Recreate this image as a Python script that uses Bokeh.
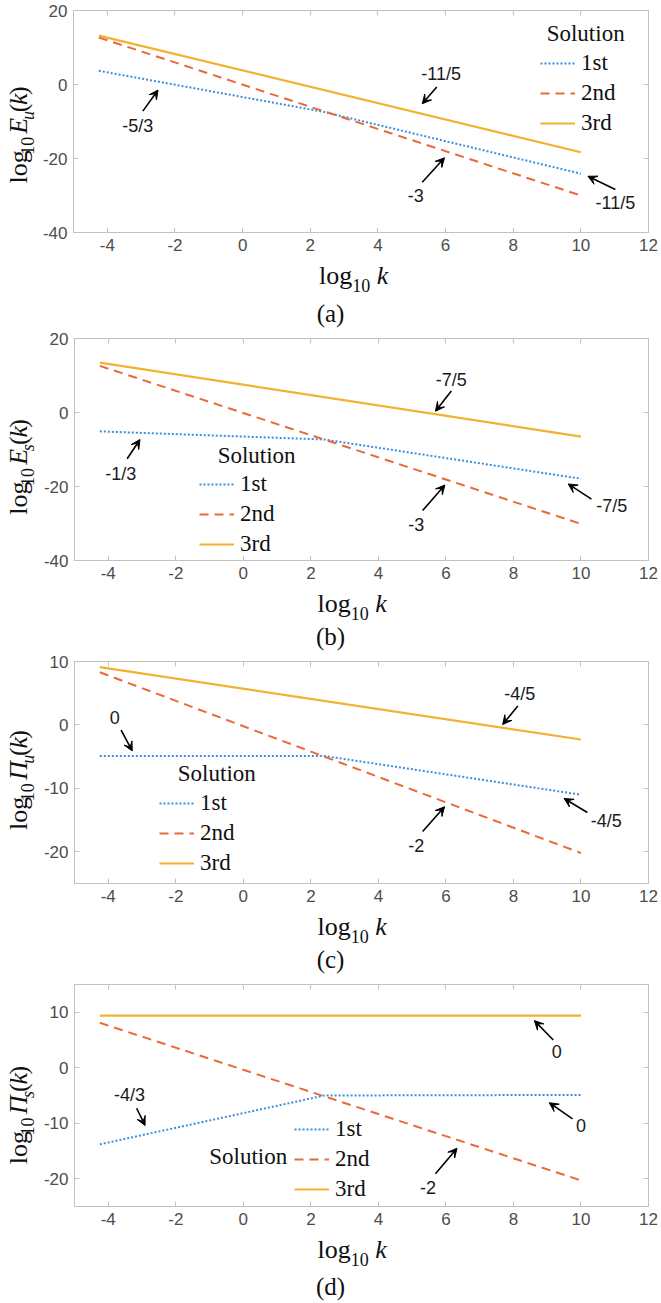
import math
from bokeh.plotting import figure
from bokeh.models import (Range1d, LinearAxis, FixedTicker, Label, Arrow, VeeHead,
                          CustomJSTickFormatter)
from bokeh.layouts import column, row
from bokeh.embed import file_html
from bokeh.resources import INLINE

# ---------------- data ----------------
x_ticks = [-4, -2, 0, 2, 4, 6, 8, 10, 12]
series_names = ["1st", "2nd", "3rd"]

# (a) log10 E_u(k)
a_k1 = [-4.25, 2.4, 10.0]
a_v1 = [3.7, -7.4, -24.1]
a_k2 = [-4.25, 10.0]
a_v2 = [12.7, -30.0]
a_k3 = [-4.25, 10.0]
a_v3 = [13.2, -18.3]
a_y_ticks = [-40, -20, 0, 20]

# (b) log10 E_s(k)
b_k1 = [-4.25, 2.4, 10.0]
b_v1 = [-5.1, -7.3, -17.9]
b_k2 = [-4.25, 10.0]
b_v2 = [12.6, -30.1]
b_k3 = [-4.25, 10.0]
b_v3 = [13.5, -6.5]
b_y_ticks = [-40, -20, 0, 20]

# (c) log10 Pi_u(k)
c_k1 = [-4.25, 2.4, 10.0]
c_v1 = [-4.9, -4.9, -11.0]
c_k2 = [-4.25, 10.0]
c_v2 = [8.3, -20.2]
c_k3 = [-4.25, 10.0]
c_v3 = [9.1, -2.3]
c_y_ticks = [-20, -10, 0, 10]

# (d) log10 Pi_s(k)
d_k1 = [-4.25, 2.4, 10.0]
d_v1 = [-13.8, -5.0, -4.9]
d_k2 = [-4.25, 10.0]
d_v2 = [8.1, -20.3]
d_k3 = [-4.25, 10.0]
d_v3 = [9.4, 9.4]
d_y_ticks = [-20, -10, 0, 10]

# slope annotations: text, text (x, y), arrow tail (x, y), arrow head (x, y)
a_notes = [("-5/3", -3.1, -11.2, -2.95, -7.2, -2.5, -1.5),
           ("-11/5", 5.87, 2.9, 5.74, -0.7, 5.31, -5.2),
           ("-3", 5.12, -30.0, 5.31, -26.4, 5.97, -19.8),
           ("-11/5", 11.02, -32.1, 11.02, -28.4, 10.21, -24.8)]
b_notes = [("-1/3", -3.63, -16.6, -3.44, -12.5, -3.06, -7.3),
           ("-7/5", 6.16, 8.8, 6.16, 5.8, 5.69, 0.35),
           ("-3", 5.12, -30.2, 5.31, -26.5, 5.97, -19.6),
           ("-7/5", 10.91, -25.4, 10.31, -23.4, 9.62, -19.3)]
c_notes = [("0", -3.81, 1.1, -3.62, -0.8, -3.29, -4.1),
           ("-4/5", 8.19, 4.9, 8.13, 3.0, 7.68, 0.06),
           ("-2", 5.12, -19.0, 5.31, -16.8, 5.96, -12.9),
           ("-4/5", 10.75, -15.1, 10.19, -13.8, 9.5, -11.6)]
d_notes = [("-4/3", -3.37, -4.9, -3.16, -7.3, -2.91, -10.4),
           ("0", 9.28, 2.9, 9.18, 5.0, 8.62, 8.5),
           ("0", 10.0, -10.4, 9.75, -9.2, 9.06, -6.3),
           ("-2", 5.47, -21.5, 5.69, -19.1, 6.33, -14.5)]

# ---------------- style ----------------
C1, C2, C3 = "#3b8fdc", "#e9693b", "#f1b22f"
AX = "#c2c2c2"
TICK_TXT = "#4d4d4d"
SERIF = "Liberation Serif"
SANS = "Liberation Sans"
YLAB_W = 39
FULL_W = 660
FRAME_H = 222
TICK_BAND = 26
XLAB_BASE = 52      # x-axis title baseline below the frame (px)

W = {'l': .278, 'o': .5, 'g': .5, '1': .5, '0': .5, 'k': .444, 'E': .611,
     'u': .5, 's': .389, '(': .333, ')': .333, 'Π': .722}


def text_runs(p, parts, x, y, vertical=False, baseline="middle"):
    """Place a sequence of styled runs; x, y in pixel-like data units of a blank figure."""
    pos = 0.0
    for text, size, style, raise_ in parts:
        if text.strip() == "":
            pos += 0.25 * size
            continue
        w = sum(W.get(c, .5) for c in text) * size
        if vertical:
            lab = Label(x=x - raise_, y=y + pos, angle=math.pi / 2, text=text)
        else:
            lab = Label(x=x + pos, y=y + raise_, text=text)
        lab.text_font = SERIF
        lab.text_font_size = f"{size}px"
        lab.text_font_style = style
        lab.text_align = "left"
        lab.text_baseline = baseline
        lab.text_color = "#111111"
        p.add_layout(lab)
        pos += w


def blank_fig(w, h):
    f = figure(width=w, height=h, x_range=Range1d(0, w), y_range=Range1d(0, h),
               output_backend="svg", toolbar_location=None,
               x_axis_type=None, y_axis_type=None,
               min_border_left=0, min_border_right=0, min_border_top=0, min_border_bottom=0)
    f.outline_line_color = None
    f.background_fill_color = "white"
    f.border_fill_color = "white"
    return f


def make_panel(cfg):
    y0, y1 = cfg["yr"]
    main_h = cfg["bt"] + FRAME_H + TICK_BAND
    bottom_h = cfg["h"] - main_h
    main_w = FULL_W - YLAB_W
    p = figure(width=main_w, height=main_h, x_range=Range1d(-5, 12),
               y_range=Range1d(y0, y1),
               output_backend="svg", toolbar_location=None,
               min_border_left=cfg["bl"], min_border_right=12,
               min_border_top=cfg["bt"], min_border_bottom=TICK_BAND)
    p.grid.visible = False
    p.outline_line_color = AX
    p.background_fill_color = "white"
    p.border_fill_color = "white"

    def style_axis(ax, ticks, show_labels, standoff):
        ax.ticker = FixedTicker(ticks=ticks)
        ax.axis_line_color = AX
        ax.major_tick_line_color = AX
        ax.major_tick_in = 5
        ax.major_tick_out = 0
        ax.minor_tick_line_color = None
        if show_labels:
            ax.formatter = CustomJSTickFormatter(code="return tick.toString()")
            ax.major_label_text_font = SANS
            ax.major_label_text_font_size = "17px"
            ax.major_label_text_color = TICK_TXT
            ax.major_label_standoff = standoff
        else:
            ax.formatter = CustomJSTickFormatter(code="return ''")
            ax.major_label_standoff = 0
            ax.major_label_text_font_size = "1px"

    style_axis(p.below[0], x_ticks, True, 6)
    style_axis(p.left[0], cfg["yt"], True, 6)
    top = LinearAxis()
    style_axis(top, x_ticks, False, 0)
    p.add_layout(top, "above")
    right = LinearAxis()
    style_axis(right, cfg["yt"], False, 0)
    p.add_layout(right, "right")

    k1, v1, k2, v2, k3, v3 = cfg["data"]
    p.line(k1, v1, line_color=C1, line_width=2, line_dash="2 2", legend_label=series_names[0])
    p.line(k2, v2, line_color=C2, line_width=2, line_dash="9 6", legend_label=series_names[1])
    p.line(k3, v3, line_color=C3, line_width=2.2, legend_label=series_names[2])

    leg = p.legend[0]
    leg.location = cfg["leg"]
    leg.padding = 0
    leg.margin = 0
    leg.spacing = 0
    leg.label_height = 30
    leg.glyph_height = 30
    leg.glyph_width = 35
    leg.label_standoff = 6
    leg.background_fill_alpha = 0
    leg.border_line_color = None
    leg.label_text_font = SERIF
    leg.label_text_font_size = "23px"
    leg.label_text_color = "#111111"

    sx, sy, salign = cfg["sol"]
    p.add_layout(Label(x=sx, y=sy, text="Solution", text_font=SERIF, text_font_size="23px",
                       text_align=salign, text_baseline="middle", text_color="#111111"))

    for t, tx, ty, ax0, ay0, ax1, ay1 in cfg["notes"]:
        p.add_layout(Arrow(end=VeeHead(size=9, fill_color="black", line_color="black",
                                       line_width=1),
                           x_start=ax0, y_start=ay0, x_end=ax1, y_end=ay1,
                           line_color="black", line_width=1.6))
        p.add_layout(Label(x=tx, y=ty, text=t, text_font=SANS, text_font_size="18px",
                           text_align="center", text_baseline="middle", text_color="#1a1a1a"))

    # y axis title (separate narrow canvas left of the plot)
    yl = blank_fig(YLAB_W, main_h)
    sym, sub = cfg["ysym"]
    text_runs(yl, [("log", 26, "normal", 0), ("10", 18, "normal", -9), (" ", 26, "normal", 0),
                   (sym, 26, "italic", 0), (sub, 18, "italic", -9), ("(", 26, "normal", 0),
                   ("k", 26, "italic", 0), (")", 26, "normal", 0)],
              18, TICK_BAND + cfg["yl"], vertical=True, baseline="alphabetic")

    # x axis title and caption (separate canvas below the plot); y = text centre
    bt = blank_fig(FULL_W, bottom_h)
    xly = bottom_h + TICK_BAND - (XLAB_BASE - 8.8)
    text_runs(bt, [("log", 26, "normal", 0), ("10", 18, "normal", -9.7), (" ", 26, "normal", 0),
                   ("k", 26, "italic", 0)], cfg["xlx"], xly)
    bt.add_layout(Label(x=330, y=16, text=cfg["cap"],
                        text_font=SERIF, text_font_size="25px", text_align="center",
                        text_baseline="middle", text_color="#111111"))
    return column(row(yl, p, spacing=0), bt, spacing=0)


panels = [
    dict(h=329, bt=10, bl=31, yr=(-40, 20), yt=a_y_ticks,
         data=(a_k1, a_v1, a_k2, a_v2, a_k3, a_v3), leg=(467, 94), sol=(8.99, 13.8, "left"),
         notes=a_notes, ysym=("E", "u"), yl=31, xlx=318.6, cap="(a)"),
    dict(h=323, bt=9, bl=35, yr=(-40, 20), yt=b_y_ticks,
         data=(b_k1, b_v1, b_k2, b_v2, b_k3, b_v3), leg=(125, 1), sol=(-0.76, -11.5, "left"),
         notes=b_notes, ysym=("E", "s"), yl=27, xlx=317, cap="(b)"),
    dict(h=323, bt=9, bl=35, yr=(-25, 10), yt=c_y_ticks,
         data=(c_k1, c_v1, c_k2, c_v2, c_k3, c_v3), leg=(85, 5), sol=(-1.94, -7.7, "left"),
         notes=c_notes, ysym=("Π", "u"), yl=36, xlx=317, cap="(c)"),
    dict(h=327, bt=9, bl=35, yr=(-25, 15), yt=d_y_ticks,
         data=(d_k1, d_v1, d_k2, d_v2, d_k3, d_v3), leg=(220, 2), sol=(1.3, -16.0, "right"),
         notes=d_notes, ysym=("Π", "s"), yl=23, xlx=317, cap="(d)"),
]

blocks = [make_panel(c) for c in panels]
layout = column(*blocks, spacing=0)
open("out.html", "w").write(file_html(layout, INLINE))
